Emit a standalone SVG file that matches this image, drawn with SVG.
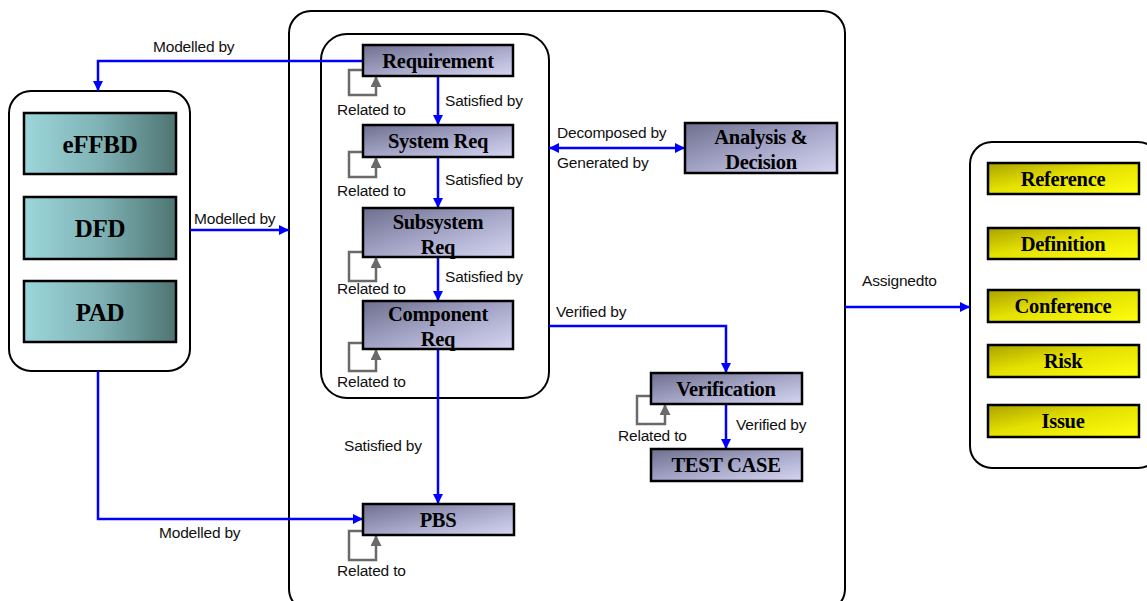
<svg xmlns="http://www.w3.org/2000/svg" width="1147" height="601" viewBox="0 0 1147 601">
<defs>
<linearGradient id="gP" x1="0" y1="0" x2="1" y2="1"><stop offset="0" stop-color="#6e6e8e"/><stop offset="0.5" stop-color="#a4a4c6"/><stop offset="1" stop-color="#d6d6f2"/></linearGradient>
<linearGradient id="gT" x1="0" y1="0" x2="1" y2="0"><stop offset="0" stop-color="#9cd6da"/><stop offset="0.5" stop-color="#7fb2b5"/><stop offset="1" stop-color="#4e7472"/></linearGradient>
<linearGradient id="gY" x1="0" y1="0" x2="1" y2="1"><stop offset="0" stop-color="#aaa200"/><stop offset="0.45" stop-color="#e4e000"/><stop offset="1" stop-color="#ffff10"/></linearGradient>
<marker id="aB" viewBox="0 0 10 10" refX="10" refY="5" markerWidth="11" markerHeight="10" markerUnits="userSpaceOnUse" orient="auto-start-reverse"><path d="M0,0 L10,5 L0,10 z" fill="#0000ff"/></marker>
<marker id="aG" viewBox="0 0 10 10" refX="10" refY="5" markerWidth="11" markerHeight="11" markerUnits="userSpaceOnUse" orient="auto"><path d="M0,0 L10,5 L0,10 z" fill="#6a6a6a"/></marker>
<style>
.cont{fill:#fff;stroke:#000;stroke-width:2}
.bx{stroke:#000;stroke-width:2.5}
.p{fill:url(#gP)}
.t{fill:url(#gT)}
.y{fill:url(#gY)}
.nt{font-family:"Liberation Serif",serif;font-weight:bold;font-size:20.5px;fill:#000;text-anchor:middle;dominant-baseline:central;letter-spacing:-0.3px}
.big{font-size:25px}
.lb{font-family:"Liberation Sans",Arial,sans-serif;font-size:15.5px;fill:#111;letter-spacing:-0.2px}
.bl{fill:none;stroke:#0000ff;stroke-width:2.5;marker-end:url(#aB)}
.gl{fill:none;stroke:#6a6a6a;stroke-width:2.5;marker-end:url(#aG)}
</style>
</defs>

<g id="containers">
<rect id="main-container" class="cont" x="289" y="11" width="556" height="600" rx="22"/>
<rect id="left-container" class="cont" x="9" y="91" width="181" height="280" rx="22"/>
<rect id="req-container" class="cont" x="321" y="34" width="228" height="364" rx="26"/>
<rect id="right-container" class="cont" x="970" y="142" width="190" height="326" rx="22"/>
</g>

<g id="connectors">
<path class="bl" d="M363,61 H98 V91"/>
<path class="bl" d="M190,230 H289"/>
<path class="bl" d="M98,371 V519 H363"/>
<path class="bl" d="M438,76 V125"/>
<path class="bl" d="M438,157 V208"/>
<path class="bl" d="M438,257 V301"/>
<path class="bl" d="M438,349 V504"/>
<path class="bl" d="M549,148 H685" marker-start="url(#aB)"/>
<path class="bl" d="M549,326 H726 V373"/>
<path class="bl" d="M726,404 V449"/>
<path class="bl" d="M845,307 H970"/>
<path class="gl" d="M363,70 H349 V95 H376 V76"/>
<path class="gl" d="M363,152 H349 V177 H376 V157"/>
<path class="gl" d="M363,252 H349 V281 H376 V257"/>
<path class="gl" d="M363,343 H349 V371 H376 V349"/>
<path class="gl" d="M651,396 H637 V424 H665 V404"/>
<path class="gl" d="M363,531 H349 V560 H376 V535"/>
<text class="lb" x="153" y="52">Modelled by</text>
<text class="lb" x="194" y="224">Modelled by</text>
<text class="lb" x="159" y="538">Modelled by</text>
<text class="lb" x="445" y="106">Satisfied by</text>
<text class="lb" x="445" y="185">Satisfied by</text>
<text class="lb" x="445" y="282">Satisfied by</text>
<text class="lb" x="344" y="451">Satisfied by</text>
<text class="lb" x="337" y="115">Related to</text>
<text class="lb" x="337" y="196">Related to</text>
<text class="lb" x="337" y="294">Related to</text>
<text class="lb" x="337" y="387">Related to</text>
<text class="lb" x="337" y="576">Related to</text>
<text class="lb" x="618" y="441">Related to</text>
<text class="lb" x="557" y="138">Decomposed by</text>
<text class="lb" x="557" y="168">Generated by</text>
<text class="lb" x="556" y="317">Verified by</text>
<text class="lb" x="736" y="430">Verified by</text>
<text class="lb" x="862" y="286">Assignedto</text>
</g>

<g id="eFFBD"><rect class="bx t" x="24" y="113" width="152" height="61"/><text class="nt big" x="100" y="144">eFFBD</text></g>
<g id="DFD"><rect class="bx t" x="24" y="197" width="152" height="62"/><text class="nt big" x="100" y="228">DFD</text></g>
<g id="PAD"><rect class="bx t" x="24" y="281" width="152" height="61"/><text class="nt big" x="100" y="312">PAD</text></g>

<g id="Requirement"><rect class="bx p" x="363" y="45" width="150" height="31"/><text class="nt" x="438" y="61">Requirement</text></g>
<g id="SystemReq"><rect class="bx p" x="363" y="125" width="150" height="32"/><text class="nt" x="438" y="141">System Req</text></g>
<g id="SubsystemReq"><rect class="bx p" x="363" y="208" width="150" height="49"/><text class="nt" x="438" y="222">Subsystem</text><text class="nt" x="438" y="247">Req</text></g>
<g id="ComponentReq"><rect class="bx p" x="363" y="301" width="150" height="48"/><text class="nt" x="438" y="314">Component</text><text class="nt" x="438" y="339">Req</text></g>
<g id="PBS"><rect class="bx p" x="363" y="504" width="151" height="31"/><text class="nt" x="438" y="520">PBS</text></g>
<g id="AnalysisDecision"><rect class="bx p" x="685" y="123" width="152" height="50"/><text class="nt" x="761" y="137">Analysis &amp;</text><text class="nt" x="761" y="162">Decision</text></g>
<g id="Verification"><rect class="bx p" x="651" y="373" width="151" height="31"/><text class="nt" x="726" y="389">Verification</text></g>
<g id="TESTCASE"><rect class="bx p" x="651" y="449" width="151" height="32"/><text class="nt" x="726" y="465">TEST CASE</text></g>

<g id="Reference"><rect class="bx y" x="988" y="163" width="151" height="31"/><text class="nt" x="1063" y="179">Reference</text></g>
<g id="Definition"><rect class="bx y" x="988" y="228" width="151" height="31"/><text class="nt" x="1063" y="244">Definition</text></g>
<g id="Conference"><rect class="bx y" x="988" y="290" width="151" height="32"/><text class="nt" x="1063" y="306">Conference</text></g>
<g id="Risk"><rect class="bx y" x="988" y="345" width="151" height="32"/><text class="nt" x="1063" y="361">Risk</text></g>
<g id="Issue"><rect class="bx y" x="988" y="405" width="151" height="32"/><text class="nt" x="1063" y="421">Issue</text></g>
</svg>
